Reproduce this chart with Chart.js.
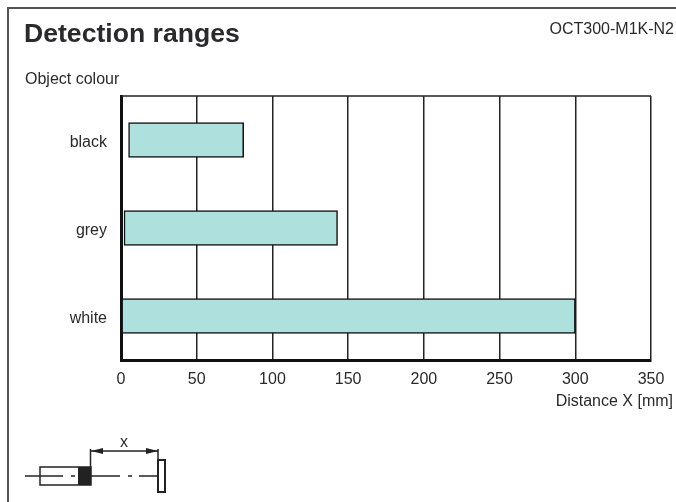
<!DOCTYPE html>
<html><head><meta charset="utf-8">
<script src="https://cdn.jsdelivr.net/npm/chart.js@4"></script>
<style>
html,body{margin:0;padding:0;background:#fff;overflow:hidden}
#wrap{position:relative;width:676px;height:502px;font-family:"Liberation Sans",Arial,sans-serif;color:#2a2a2c}
canvas{position:absolute;left:0;top:0}
.t{position:absolute;white-space:nowrap;line-height:1}
#frameT{position:absolute;left:7px;top:7px;width:669px;height:2px;background:#555}
#frameL{position:absolute;left:7px;top:7px;width:2px;height:495px;background:#555}
svg{position:absolute;left:0;top:420px}
</style></head><body>
<div id="wrap">
<canvas id="c" width="676" height="502" style="width:676px;height:502px"></canvas>
<div id="frameT"></div><div id="frameL"></div>
<div class="t" style="left:24px;top:20px;font-size:26.6px;font-weight:bold">Detection ranges</div>
<div class="t" style="right:2px;top:21px;font-size:16px">OCT300-M1K-N2</div>
<div class="t" style="left:25px;top:71px;font-size:16px">Object colour</div>
<div class="t" style="right:3px;top:393px;font-size:16px">Distance X [mm]</div>
<div class="t" style="left:120px;top:434px;font-size:16px">x</div>
<svg width="220" height="82" viewBox="0 0 220 82">
<g stroke="#222" fill="none" stroke-width="1.5">
<rect x="40" y="47" width="51" height="18"/>
<line x1="25" y1="56" x2="63" y2="56"/><line x1="71" y1="56" x2="75" y2="56"/>
<line x1="91" y1="56" x2="120" y2="56"/><line x1="128" y1="56" x2="132" y2="56"/><line x1="139" y1="56" x2="157" y2="56"/>
<line x1="90.5" y1="29" x2="90.5" y2="47"/><line x1="158" y1="29" x2="158" y2="40"/>
<line x1="91" y1="31" x2="158" y2="31"/>
</g>
<rect x="78" y="47" width="13" height="18" fill="#222"/>
<path d="M91 31L103 28V34Z M158 31L146 28V34Z" fill="#222"/>
<rect x="158" y="40" width="7" height="32" fill="#fff" stroke="#222" stroke-width="2"/>
</svg>
</div>
<script>
const categories = ["black", "grey", "white"];
const rangeStart = [5, 2, 0];
const rangeEnd = [81, 143, 300];
const xTicks = [0, 50, 100, 150, 200, 250, 300, 350];

const frameLines = {
  id: "frameLines",
  beforeDraw(chart) {
    const items = chart.scales.y.getLabelItems(chart.chartArea);
    items.forEach(it => { it.options.translation = [it.options.translation[0], it.options.translation[1] + 3]; });
  },
  beforeDatasetsDraw(chart) {
    const a = chart.chartArea, g = chart.ctx;
    g.save(); g.strokeStyle = "#222"; g.lineWidth = 1.5;
    g.beginPath(); g.moveTo(a.left, a.top); g.lineTo(a.right, a.top); g.stroke();
    g.restore();
  }
};
new Chart(document.getElementById("c"), {
  type: "bar",
  data: {
    labels: categories,
    datasets: [{
      data: categories.map((_, i) => [rangeStart[i], rangeEnd[i]]),
      backgroundColor: "#aee0dd",
      borderColor: "#111",
      borderWidth: 1.5,
      borderSkipped: false,
      barThickness: 35
    }]
  },
  plugins: [frameLines],
  options: {
    indexAxis: "y",
    responsive: false,
    animation: false,
    devicePixelRatio: 1,
    layout: { padding: { left: 0, right: 25, top: 96, bottom: 0 } },
    plugins: { legend: { display: false }, tooltip: { enabled: false } },
    scales: {
      x: {
        type: "linear", min: 0, max: 350,
        afterBuildTicks(s) { s.ticks = xTicks.map(v => ({ value: v })); },
        afterFit(s) { s.height = 142; },
        grid: { color: "#222", lineWidth: 1.5, drawTicks: false },
        border: { color: "#111", width: 3 },
        ticks: { color: "#2a2a2c", font: { family: "Liberation Sans", size: 16 }, padding: 10, maxRotation: 0, autoSkip: false }
      },
      y: {
        afterFit(s) { s.width = 121; },
        grid: { display: false, drawTicks: false },
        border: { color: "#111", width: 3 },
        ticks: { color: "#2a2a2c", font: { family: "Liberation Sans", size: 16 }, padding: 14 }
      }
    }
  }
});
</script>
</body></html>
